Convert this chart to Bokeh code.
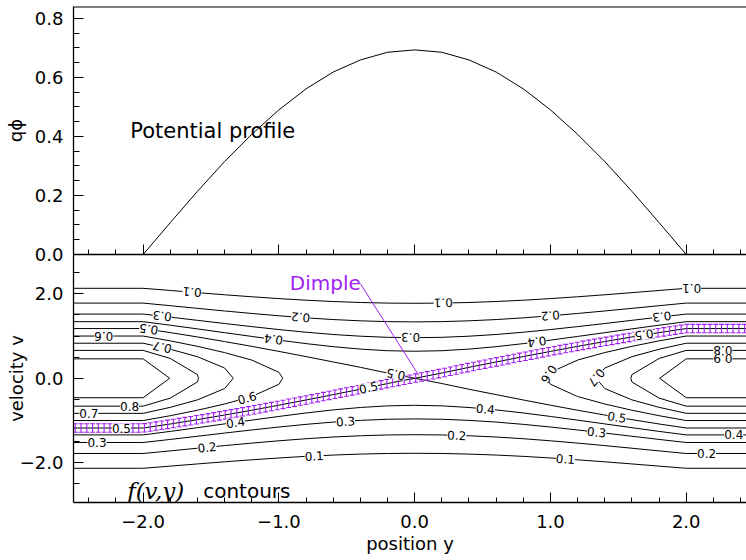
import numpy as np
from bokeh.plotting import figure
from bokeh.layouts import column
from bokeh.models import (Range1d, SingleIntervalTicker, CustomJSTickFormatter, Span)
from bokeh.core.properties import value
from bokeh.embed import file_html
from bokeh.resources import INLINE

# ---------------- data ----------------
# potential profile q*phi(y), sampled along the position axis
position = [-2.0, -1.8, -1.6, -1.4, -1.2, -1.0, -0.8, -0.6, -0.4, -0.2, 0.0,
            0.2, 0.4, 0.6, 0.8, 1.0, 1.2, 1.4, 1.6, 1.8, 2.0]
potential = [0.000, 0.108, 0.214, 0.315, 0.407, 0.490, 0.561, 0.618, 0.659, 0.685, 0.693,
             0.685, 0.659, 0.618, 0.561, 0.490, 0.407, 0.315, 0.214, 0.108, 0.000]

# contour levels of f(v,y) and the speed |v| each has where the potential is zero
levels = [0.1, 0.2, 0.3, 0.4, 0.5, 0.6, 0.7, 0.8, 0.9]
edge_speed = [2.13, 1.78, 1.52, 1.34, 1.177, 1.00, 0.83, 0.66, 0.46]

# contour labels: level, position along y, branch (U upper / L lower, A/B separatrix branches)
label_level = [0.1, 0.1, 0.1, 0.2, 0.2, 0.3, 0.3, 0.3, 0.4, 0.4, 0.5, 0.5, 0.5,
               0.6, 0.6, 0.7, 0.7, 0.8, 0.9,
               0.1, 0.1, 0.2, 0.2, 0.2, 0.3, 0.3, 0.3, 0.4, 0.4, 0.4, 0.5, 0.5, 0.5,
               0.6, 0.7, 0.8]
label_pos = [-1.64, 0.21, 2.04, -0.84, 1.00, -1.86, -0.03, 1.82, -1.04, 0.90, -1.96, -0.14, 1.69,
             -2.29, 0.99, -1.86, 1.34, 2.27, 2.27,
             -0.74, 1.11, -1.53, 0.31, 2.15, -2.34, -0.51, 1.34, -1.32, 0.52, 2.35, -2.16, -0.34, 1.49,
             -1.235, -2.40, -2.10]
label_branch = ['U', 'U', 'U', 'U', 'U', 'U', 'U', 'U', 'U', 'U', 'B', 'B', 'A',
                'U', 'U', 'U', 'U', 'U', 'U',
                'L', 'L', 'L', 'L', 'L', 'L', 'L', 'L', 'L', 'L', 'L', 'A', 'A', 'B',
                'L', 'L', 'L']

dimple_spacing = 0.0425     # spacing of the purple bars along the dimple
dimple_halfheight = 0.10

# ---------------- geometry ----------------
X0, X1 = -2.513, 2.444
V0, V1 = -2.94, 2.93
PHI_TOP = 0.84
W = 746
LEFT = 73
OVER = 26                  # p1 canvas extends this far below its frame (under p2)
PURPLE = "#a020f0"
FONT = "DejaVu Sans"

PY = np.array([-2.6] + position + [2.6])
PH = np.array([0.0] + potential + [0.0])
v_sep = edge_speed[levels.index(0.5)]
mid = int(np.argmin(np.abs(PY)))

lines_x, lines_y = [], []
pieces = {}
for lev, v0 in zip(levels, edge_speed):
    d = v0 ** 2 - 2 * PH
    if abs(lev - 0.5) < 1e-9:
        s = np.sqrt(np.clip(d, 0, None))
        a = np.where(PY < 0, -s, s)
        pieces[(lev, 'A')] = [(PY, a)]
        pieces[(lev, 'B')] = [(PY, -a)]
        lines_x += [PY, PY]
        lines_y += [a, -a]
    elif v0 > v_sep:
        s = np.sqrt(d)
        pieces[(lev, 'U')] = [(PY, s)]
        pieces[(lev, 'L')] = [(PY, -s)]
        lines_x += [PY, PY]
        lines_y += [s, -s]
    else:
        E = v0 ** 2 / 2
        left = np.arange(0, mid + 1)
        il = left[d[left] > 0]
        k = il[-1]
        tl = PY[k] + (PY[k + 1] - PY[k]) * (E - PH[k]) / (PH[k + 1] - PH[k])
        yl = np.append(PY[il], tl)
        vl = np.append(np.sqrt(d[il]), 0.0)
        right = np.arange(mid, len(PY))
        ir = right[d[right] > 0]
        k = ir[0]
        tr = PY[k - 1] + (PY[k] - PY[k - 1]) * (PH[k - 1] - E) / (PH[k - 1] - PH[k])
        yr = np.insert(PY[ir], 0, tr)
        vr = np.insert(np.sqrt(d[ir]), 0, 0.0)
        pieces[(lev, 'U')] = [(yl, vl), (yr, vr)]
        pieces[(lev, 'L')] = [(yl, -vl), (yr, -vr)]
        lines_x += [np.concatenate([yl, yl[::-1][1:]]), np.concatenate([yr[::-1], yr[1:]])]
        lines_y += [np.concatenate([vl, -vl[::-1][1:]]), np.concatenate([vr[::-1], -vr[1:]])]

PXV = 248.0 / (V1 - V0)
PXY = (W - LEFT) / (X1 - X0)


def on_piece(key, y):
    best = None
    for ys, vs in pieces[key]:
        if ys[0] - 1e-9 <= y <= ys[-1] + 1e-9:
            best = (ys, vs)
    if best is None:
        ys, vs = min(pieces[key], key=lambda p: min(abs(p[0][0] - y), abs(p[0][-1] - y)))
        y = min(max(y, ys[0]), ys[-1])
    else:
        ys, vs = best
    v = float(np.interp(y, ys, vs))
    j = int(np.clip(np.searchsorted(ys, y), 1, len(ys) - 1))
    slope = (vs[j] - vs[j - 1]) / (ys[j] - ys[j - 1])
    return y, v, slope


lx, lv, la, lt = [], [], [], []
for lev, y, br in zip(label_level, label_pos, label_branch):
    yy, v, sl = on_piece((lev, br), y)
    ang = np.arctan(sl * PXV / PXY)
    if v > 0:
        ang += np.pi
    lx.append(yy)
    lv.append(v)
    la.append(ang)
    lt.append("%.1f" % lev)

# dimple bars along separatrix branch A
ysA, vsA = pieces[(0.5, 'A')][0]
bar_y = np.arange(-2.50, X1, dimple_spacing)
bar_v = np.interp(bar_y, ysA, vsA)

fmt = CustomJSTickFormatter(code="return (tick < -1e-9 ? '\u2212' : '') + Math.abs(tick).toFixed(1);")


def style(ax, maj, mnr):
    ax.major_tick_in = maj
    ax.major_tick_out = 0
    ax.minor_tick_in = mnr
    ax.minor_tick_out = 0
    ax.axis_line_color = "black"
    ax.axis_line_width = 1.3
    ax.major_tick_line_color = "black"
    ax.minor_tick_line_color = "black"
    ax.major_label_text_font = FONT
    ax.major_label_text_font_size = "18px"
    ax.major_label_text_color = "black"
    ax.axis_label_text_font = FONT
    ax.axis_label_text_font_size = "18px"
    ax.axis_label_text_font_style = "normal"
    ax.axis_label_text_color = "black"
    ax.formatter = fmt


xr = Range1d(X0, X1)

# ---------------- top panel ----------------
p1 = figure(width=W, height=248 + 6 + OVER, x_range=xr, y_range=Range1d(0, PHI_TOP),
            output_backend="svg", toolbar_location=None,
            min_border_left=LEFT, min_border_right=0, min_border_top=6, min_border_bottom=OVER)
p1.outline_line_color = None
p1.grid.visible = False
p1.line(position, potential, line_color="black", line_width=1)
p1.text(x=[-2.095], y=[0.419], text=["Potential profile"], text_font=value(FONT),
        text_font_size="21px", text_baseline="middle", text_align="left", text_color="black")
p1.add_layout(Span(location=PHI_TOP, dimension="width", line_color="black", line_width=2))
p1.yaxis.ticker = SingleIntervalTicker(interval=0.2, num_minor_ticks=4)
p1.xaxis.ticker = SingleIntervalTicker(interval=1.0, num_minor_ticks=5)
style(p1.yaxis[0], 10, 6)
style(p1.xaxis[0], 10, 5)
p1.yaxis.major_label_standoff = 10
p1.yaxis.axis_label = "qϕ"
p1.yaxis.axis_label_standoff = 6
p1.xaxis.formatter = CustomJSTickFormatter(code="return '';")
p1.xaxis.major_label_standoff = 0

# ---------------- bottom panel ----------------
p2 = figure(width=W, height=248 + 56, x_range=xr, y_range=Range1d(V0, V1),
            output_backend="svg", toolbar_location=None,
            min_border_left=LEFT, min_border_right=0, min_border_top=0, min_border_bottom=56,
            margin=(-OVER, 0, 0, 0))
p2.outline_line_color = None
p2.border_fill_color = None
p2.background_fill_color = None
p2.grid.visible = False
p2.multi_line(xs=[list(a) for a in lines_x], ys=[list(b) for b in lines_y],
              line_color="black", line_width=1)
# dimple
p2.segment(x0=bar_y, y0=bar_v - dimple_halfheight, x1=bar_y, y1=bar_v + dimple_halfheight,
           line_color=PURPLE, line_width=1.1)
p2.scatter(np.concatenate([bar_y, bar_y]),
           np.concatenate([bar_v - dimple_halfheight, bar_v + dimple_halfheight]),
           marker="dash", size=5, line_color=PURPLE, line_width=1.1)
# contour labels
p2.text(x=lx, y=lv, text=lt, angle=la, text_align="center", text_baseline="middle",
        text_font=value(FONT), text_font_size="12px", text_color="black",
        background_fill_color="white", padding=0)
# annotations
p2.text(x=[-0.92], y=[2.25], text=["Dimple"], text_font=value(FONT), text_font_size="20px",
        text_color=PURPLE, text_baseline="middle", text_align="left")
p2.segment(x0=[-0.40], y0=[2.24], x1=[0.03], y1=[0.07], line_color=PURPLE, line_width=1)
p2.text(x=[-2.118], y=[-2.66], text=["f(v,y)"], text_font=value("DejaVu Serif"),
        text_font_style="italic", text_font_size="23px", text_baseline="middle", text_align="left")
p2.text(x=[-1.558], y=[-2.66], text=["contours"], text_font=value(FONT),
        text_font_size="20px", text_baseline="middle", text_align="left")

p2.yaxis.ticker = SingleIntervalTicker(interval=2.0, num_minor_ticks=4)
p2.xaxis.ticker = SingleIntervalTicker(interval=1.0, num_minor_ticks=5)
style(p2.yaxis[0], 10, 6)
style(p2.xaxis[0], 10, 5)
p2.yaxis.major_label_standoff = 10
p2.yaxis.axis_label = "velocity v"
p2.yaxis.axis_label_standoff = -10
p2.xaxis.major_label_standoff = 12
p2.xaxis.axis_label = "position y"
p2.xaxis.axis_label_standoff = 2

layout = column(p1, p2, spacing=0)
open("out.html", "w").write(file_html(layout, INLINE))
